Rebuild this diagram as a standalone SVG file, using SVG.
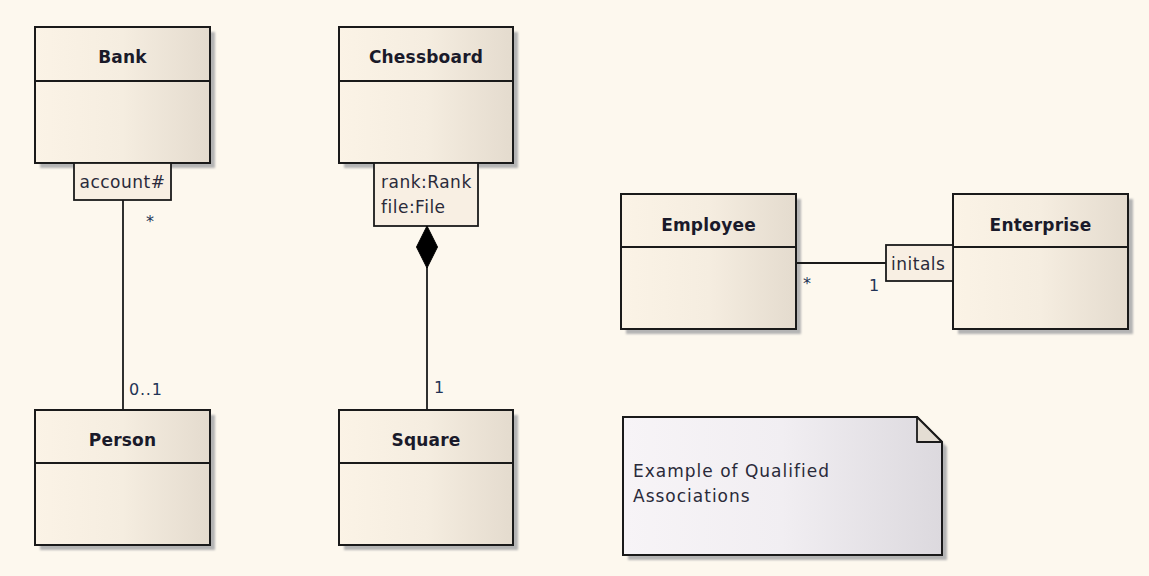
<svg xmlns="http://www.w3.org/2000/svg" width="1149" height="576" viewBox="0 0 1149 576">
<defs>
<linearGradient id="cls" x1="0" y1="0" x2="1" y2="0">
<stop offset="0" stop-color="#FBF3E6"/>
<stop offset="0.5" stop-color="#F5EDE0"/>
<stop offset="1" stop-color="#E4DBCE"/>
</linearGradient>
<linearGradient id="note" x1="0" y1="0" x2="1" y2="0">
<stop offset="0" stop-color="#F7F4F7"/>
<stop offset="0.5" stop-color="#F1EEF2"/>
<stop offset="1" stop-color="#DCD9DE"/>
</linearGradient>
<filter id="blur" x="-10%" y="-10%" width="120%" height="120%"><feGaussianBlur stdDeviation="1"/></filter>
</defs>
<style>
.bg{fill:#FDF8EE}
.box{fill:url(#cls);stroke:#1A1A1A;stroke-width:2}
.qual{fill:#F8EFE3;stroke:#1A1A1A;stroke-width:1.8}
.shadow{fill:#B4B4B4;filter:url(#blur)}
.div{stroke:#1A1A1A;stroke-width:1.8}
.name{font-family:"DejaVu Sans",sans-serif;font-weight:bold;font-size:17px;letter-spacing:0.2px;fill:#1A1A2A;text-anchor:middle}
.txt{font-family:"DejaVu Sans",sans-serif;font-size:17px;letter-spacing:0.5px;fill:#2A2A3A}
.conn{stroke:#1A1A1A;stroke-width:1.8;fill:none}
.mult{font-family:"DejaVu Sans",sans-serif;font-size:16px;letter-spacing:0.8px;fill:#223355}
</style>
<rect class="bg" x="0" y="0" width="1149" height="576"/>

<g id="Bank">
<rect class="shadow" x="40" y="32" width="175" height="136"/>
<rect class="box" x="35" y="27" width="175" height="136"/>
<line class="div" x1="35" y1="81" x2="210" y2="81"/>
<text class="name" x="122.5" y="63">Bank</text>
<rect class="qual" x="74" y="163" width="97" height="37"/>
<text class="txt" x="122.5" y="188" text-anchor="middle">account#</text>
</g>

<g id="Chessboard">
<rect class="shadow" x="344" y="32" width="174" height="136"/>
<rect class="box" x="339" y="27" width="174" height="136"/>
<line class="div" x1="339" y1="81" x2="513" y2="81"/>
<text class="name" x="426" y="63">Chessboard</text>
<rect class="qual" x="374" y="163" width="104" height="63"/>
<text class="txt" x="381" y="188">rank:Rank</text>
<text class="txt" x="381" y="213">file:File</text>
</g>

<g id="Person">
<rect class="shadow" x="40" y="415" width="175" height="135"/>
<rect class="box" x="35" y="410" width="175" height="135"/>
<line class="div" x1="35" y1="463" x2="210" y2="463"/>
<text class="name" x="122.5" y="446">Person</text>
</g>

<g id="Square">
<rect class="shadow" x="344" y="415" width="174" height="135"/>
<rect class="box" x="339" y="410" width="174" height="135"/>
<line class="div" x1="339" y1="463" x2="513" y2="463"/>
<text class="name" x="426" y="446">Square</text>
</g>

<g id="Employee">
<rect class="shadow" x="626" y="199" width="175" height="135"/>
<rect class="box" x="621" y="194" width="175" height="135"/>
<line class="div" x1="621" y1="247" x2="796" y2="247"/>
<text class="name" x="708.5" y="231">Employee</text>
</g>

<g id="Enterprise">
<rect class="shadow" x="958" y="199" width="175" height="135"/>
<rect class="box" x="953" y="194" width="175" height="135"/>
<line class="div" x1="953" y1="247" x2="1128" y2="247"/>
<text class="name" x="1040.5" y="231">Enterprise</text>
<rect class="qual" x="886" y="245" width="67" height="36"/>
<text class="txt" x="891" y="270">initals</text>
</g>

<g id="Note">
<path class="shadow" d="M628,422 H922 L947,447 V560 H628 Z"/>
<path d="M623,417 H917 L942,442 V555 H623 Z" fill="url(#note)" stroke="#1A1A1A" stroke-width="2"/>
<path d="M917,417 V442 H942 Z" fill="#E4DDD3" stroke="#1A1A1A" stroke-width="1.8" stroke-linejoin="round"/>
<text class="txt" x="633" y="477" style="letter-spacing:1px">Example of Qualified</text>
<text class="txt" x="633" y="502" style="letter-spacing:1px">Associations</text>
</g>

<g id="connectors">
<line class="conn" x1="123" y1="200" x2="123" y2="410"/>
<text class="mult" x="146" y="227">*</text>
<text class="mult" x="129" y="395">0..1</text>
<line class="conn" x1="427" y1="267" x2="427" y2="410"/>
<polygon points="427,226 437.5,247 427,268 416.5,247" fill="#000" stroke="#000" stroke-width="1"/>
<text class="mult" x="434" y="393">1</text>
<line class="conn" x1="796" y1="263" x2="886" y2="263"/>
<text class="mult" x="803" y="289">*</text>
<text class="mult" x="869" y="291">1</text>
</g>
</svg>
